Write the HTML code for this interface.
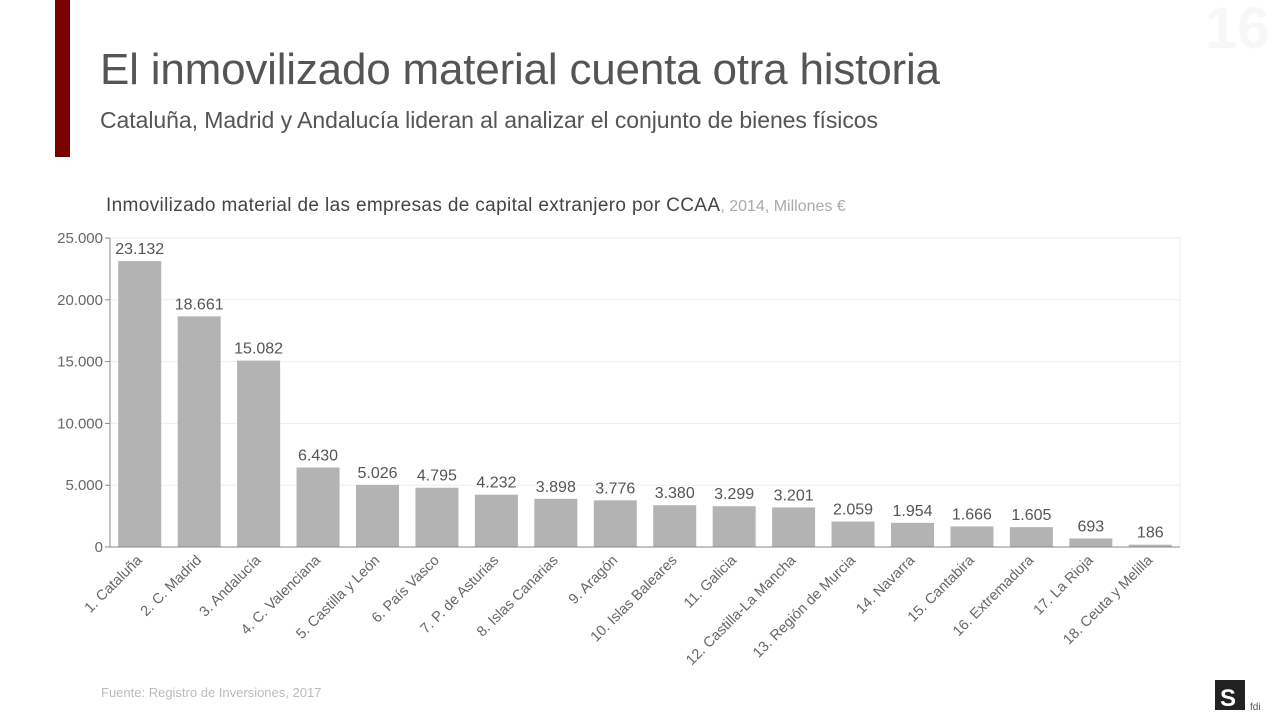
<!DOCTYPE html>
<html><head><meta charset="utf-8"><style>
body{margin:0;width:1280px;height:720px;background:#fff;overflow:hidden;font-family:"Liberation Sans",sans-serif;}
</style></head><body>
<svg width="1280" height="720" viewBox="0 0 1280 720" xmlns="http://www.w3.org/2000/svg">
<rect x="55" y="0" width="15" height="157" fill="#7a0000"/>
<text x="1205" y="48" font-size="58" font-weight="bold" fill="#f7f7f7">16</text>
<text x="100" y="84" font-size="44" fill="#555" textLength="840">El inmovilizado material cuenta otra historia</text>
<text x="100" y="128" font-size="23" fill="#555" textLength="778">Cataluña, Madrid y Andalucía lideran al analizar el conjunto de bienes físicos</text>
<text x="106" y="211" font-size="19" fill="#444"><tspan textLength="614">Inmovilizado material de las empresas de capital extranjero por CCAA</tspan><tspan fill="#aaa" font-size="16">, 2014, Millones €</tspan></text>
<g id="chart"></g>
<text x="101" y="697" font-size="13" fill="#bbb">Fuente: Registro de Inversiones, 2017</text>
<rect x="1215" y="680" width="30" height="30" fill="#222"/>
<text x="1220" y="706" font-size="24" font-weight="bold" fill="#fff">S</text>
<text x="1250" y="710" font-size="10" fill="#555">fdi</text>
</svg>
<script>
const categories=["1. Cataluña","2. C. Madrid","3. Andalucía","4. C. Valenciana","5. Castilla y León","6. País Vasco","7. P. de Asturias","8. Islas Canarias","9. Aragón","10. Islas Baleares","11. Galicia","12. Castilla-La Mancha","13. Región de Murcia","14. Navarra","15. Cantabira","16. Extremadura","17. La Rioja","18. Ceuta y Melilla"];
const values=[23132,18661,15082,6430,5026,4795,4232,3898,3776,3380,3299,3201,2059,1954,1666,1605,693,186];
const ticks=[0,5000,10000,15000,20000,25000];
const NS="http://www.w3.org/2000/svg";
const g=document.getElementById('chart');
const x0=110,x1=1180,y0=547,y1=238,maxV=25000;
const band=(x1-x0)/categories.length;
const y=v=>y0-(v/maxV)*(y0-y1);
const xc=i=>x0+band*(i+0.5);
const fmt=v=>v.toLocaleString('de-DE');
function el(t,a){const e=document.createElementNS(NS,t);for(const k in a)e.setAttribute(k,a[k]);g.appendChild(e);return e;}
ticks.forEach(t=>{
  if(t>0){const l=el('line',{x1:x0,x2:x1,y1:y(t),y2:y(t),stroke:'#eee','stroke-width':1});
  
  }
  const tk=el('line',{x1:x0-5,x2:x0,y1:y(t),y2:y(t),stroke:'#888'});
  
  
  const tx=el('text',{x:x0-7,y:y(t)+5,'text-anchor':'end','font-size':15,fill:'#666'});
  tx.textContent=fmt(t);
  
  
});
const fr=el('line',{x1:x1,x2:x1,y1:y1,y2:y0,stroke:'#eee'});


values.forEach((v,i)=>{
  const b=el('rect',{x:xc(i)-21.5,y:y(v),width:43,height:y0-y(v),fill:'#b3b3b3'});
  
  
  const t=el('text',{x:xc(i),y:y(v)-7,'text-anchor':'middle','font-size':16,fill:'#555'});
  t.textContent=fmt(v);
  
  
  const c=el('text',{x:xc(i)+3,y:y0+14,'text-anchor':'end','font-size':14.5,fill:'#666',transform:`rotate(-45 ${xc(i)+3} ${y0+14})`});
  c.textContent=categories[i];
  
  
});
const ya=el('line',{x1:x0,x2:x0,y1:y1,y2:y0,stroke:'#888'});


const xa=el('line',{x1:x0,x2:x1,y1:y0,y2:y0,stroke:'#888'});


</script>
</body></html>
